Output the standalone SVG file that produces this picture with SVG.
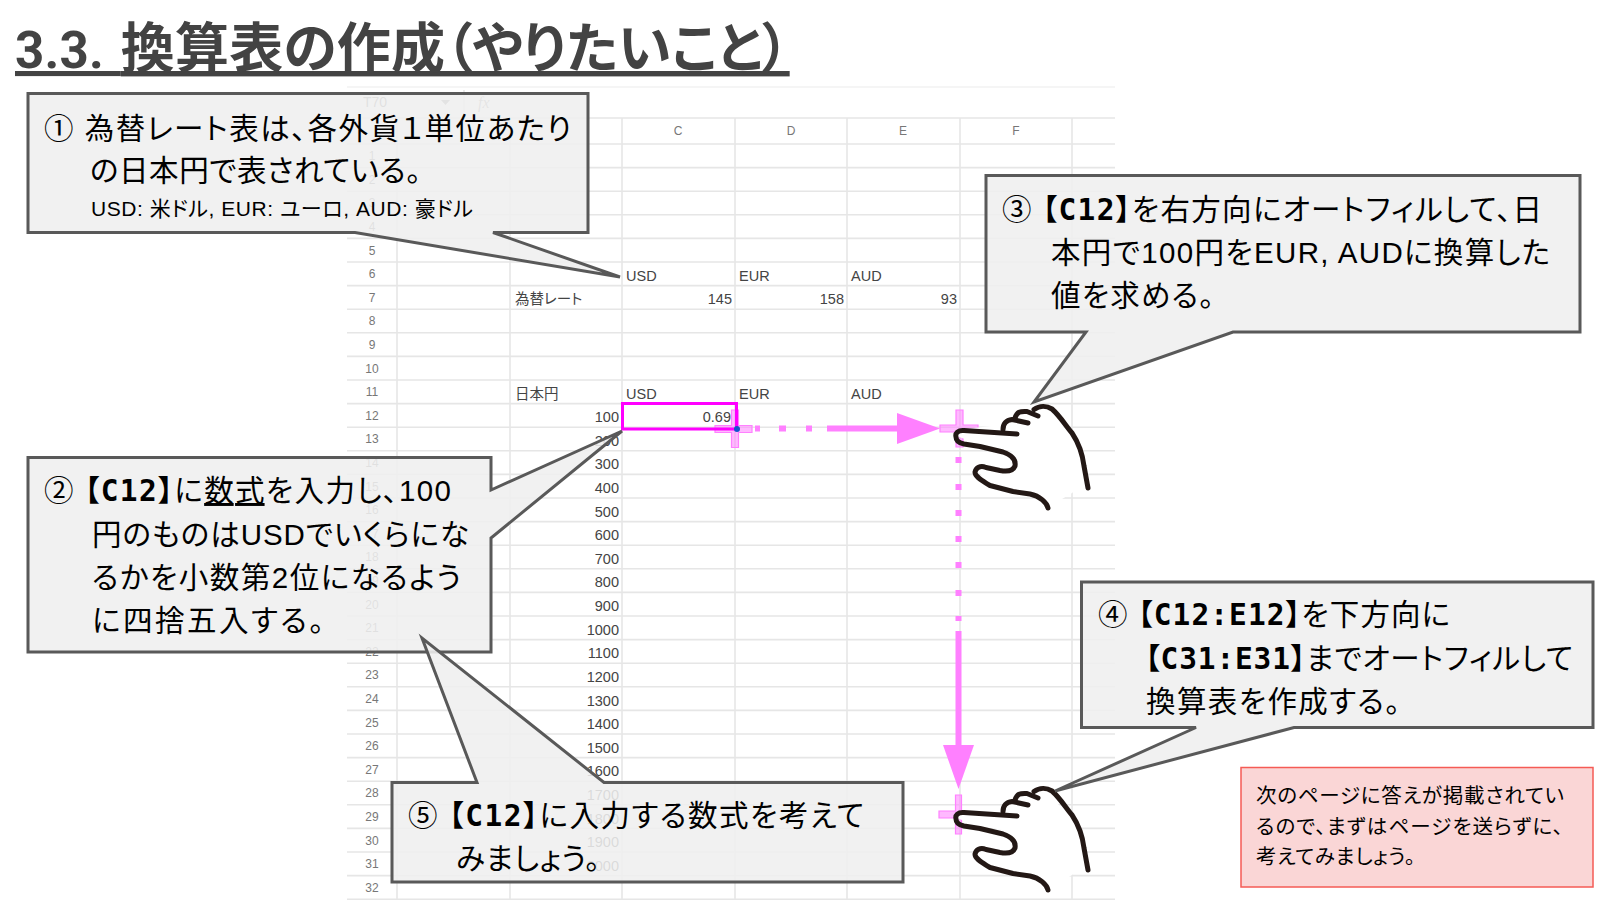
<svg xmlns="http://www.w3.org/2000/svg" width="1600" height="900" viewBox="0 0 1600 900">
<style>
text{font-family:"Liberation Sans","Noto Sans CJK JP","Noto Sans",sans-serif;fill:#000;font-feature-settings:"palt"}
.t{font-size:29.500px}
.s{font-size:21px}
.r{font-size:20.500px}
.m{font-family:"DejaVu Sans Mono","Noto Sans CJK JP",monospace;font-weight:700}
.d{font-size:14.500px;fill:#444}
.e{text-anchor:end}
.h{font-size:12px;fill:#777;text-anchor:middle}
.box{fill:#efefef;fill-opacity:.88;stroke:#595959;stroke-width:3;stroke-linejoin:miter}
.grid{stroke:#e6e6e6;stroke-width:1.6}
.hand{fill:none;stroke:#231815;stroke-width:5;stroke-linecap:round;stroke-linejoin:round}
.cross{fill:#ff80ff;fill-opacity:.55;stroke:#ff80ff;stroke-width:1.2}
.dash{stroke:#ff80ff;stroke-width:6;fill:none}
</style>
<defs>
<g id="handShape">
<path fill="#fff" stroke="none" d="M956 818L965 811L1000 807L1004 802L1016 793L1033 790L1050 797L1070 815L1081 830L1086 862L1072 875L1062 881L1048 890L1040 880L1020 875L985 860L975 852L978 845L990 850L1010 852L1018 845L1015 835L1003 830L980 826Z"/>
<path class="hand" d="M1017 816L964 812.500C958 812 955 815 956 819C956 823 959 825 964 826L980 828.500L1003 834C1012 837 1016 842 1015 848C1013 853 1008 854 1000 852.500L986 849.500C980 847 976 850 975 854C975 858 979 861 990 867.500L1013 873.500L1030 876C1040 878 1047 885 1048 890"/>
<path class="hand" d="M1003 811.500C1003 806 1006 802 1012 801.500L1028 805"/>
<path class="hand" d="M1015 800C1017 794 1020 793 1027 793.500L1038 798"/>
<path class="hand" d="M1034 791.500C1040 787 1047 788 1052 791C1060 798 1066 808 1072 815C1080 827 1083 840 1084 848L1088 870"/>
</g>
</defs>
<rect width="1600" height="900" fill="#fff"/>
<g id="sheet">
<path class="grid" stroke-opacity=".5" d="M347 87H1115"/>
<path class="grid" d="M347 118H1115M347 144H1115M347 167.600H1115M347 191.200H1115M347 214.800H1115M347 238.400H1115M347 262H1115M347 285.600H1115M347 309.200H1115M347 332.800H1115M347 356.400H1115M347 380H1115M347 403.600H1115M347 427.200H1115M347 450.800H1115M347 474.400H1115M347 498H1115M347 521.600H1115M347 545.200H1115M347 568.800H1115M347 592.400H1115M347 616H1115M347 639.600H1115M347 663.200H1115M347 686.800H1115M347 710.400H1115M347 734H1115M347 757.600H1115M347 781.200H1115M347 804.800H1115M347 828.400H1115M347 852H1115M347 875.600H1115M347 899.200H1115"/>
<path class="grid" d="M397 118V900M510 118V900M622 118V900M735 118V900M847 118V900M960 118V900M1072 118V900M464 90V112"/>
<text x="363" y="107" style="font-size:14px;fill:#777">T70</text>
<path d="M441 100h9l-4.500 5z" fill="#888"/>
<text x="478" y="108" style="font-family:'Liberation Serif';font-style:italic;font-size:16px;fill:#999">fx</text>
<text class="h" x="678" y="135">C</text><text class="h" x="791" y="135">D</text><text class="h" x="903" y="135">E</text><text class="h" x="1016" y="135">F</text>
<text class="h" x="372" y="160">1</text><text class="h" x="372" y="184">2</text><text class="h" x="372" y="207">3</text><text class="h" x="372" y="231">4</text><text class="h" x="372" y="255">5</text><text class="h" x="372" y="278">6</text><text class="h" x="372" y="302">7</text><text class="h" x="372" y="325">8</text><text class="h" x="372" y="349">9</text><text class="h" x="372" y="373">10</text><text class="h" x="372" y="396">11</text><text class="h" x="372" y="420">12</text><text class="h" x="372" y="443">13</text><text class="h" x="372" y="467">14</text><text class="h" x="372" y="491">15</text><text class="h" x="372" y="514">16</text><text class="h" x="372" y="538">17</text><text class="h" x="372" y="561">18</text><text class="h" x="372" y="585">19</text><text class="h" x="372" y="609">20</text><text class="h" x="372" y="632">21</text><text class="h" x="372" y="656">22</text><text class="h" x="372" y="679">23</text><text class="h" x="372" y="703">24</text><text class="h" x="372" y="727">25</text><text class="h" x="372" y="750">26</text><text class="h" x="372" y="774">27</text><text class="h" x="372" y="797">28</text><text class="h" x="372" y="821">29</text><text class="h" x="372" y="845">30</text><text class="h" x="372" y="868">31</text><text class="h" x="372" y="892">32</text>
<text class="d" x="626" y="281">USD</text><text class="d" x="739" y="281">EUR</text><text class="d" x="851" y="281">AUD</text>
<text class="d" x="515" y="304">為替レート</text>
<text class="d e" x="732" y="304">145</text><text class="d e" x="844" y="304">158</text><text class="d e" x="957" y="304">93</text>
<text class="d" x="515" y="399">日本円</text>
<text class="d" x="626" y="399">USD</text><text class="d" x="739" y="399">EUR</text><text class="d" x="851" y="399">AUD</text>
<text class="d e" x="619" y="422">100</text><text class="d e" x="619" y="446">200</text><text class="d e" x="619" y="469">300</text><text class="d e" x="619" y="493">400</text><text class="d e" x="619" y="517">500</text><text class="d e" x="619" y="540">600</text><text class="d e" x="619" y="564">700</text><text class="d e" x="619" y="587">800</text><text class="d e" x="619" y="611">900</text><text class="d e" x="619" y="635">1000</text><text class="d e" x="619" y="658">1100</text><text class="d e" x="619" y="682">1200</text><text class="d e" x="619" y="706">1300</text><text class="d e" x="619" y="729">1400</text><text class="d e" x="619" y="753">1500</text><text class="d e" x="619" y="776">1600</text><text class="d e" x="619" y="800">1700</text><text class="d e" x="619" y="824">1800</text><text class="d e" x="619" y="847">1900</text><text class="d e" x="619" y="871">2000</text>
<text class="d e" x="731" y="422">0.69</text>
</g>
<g id="connectors">
<path class="dash" d="M755 428.600h5M779 428.600h7M806 428.600h6M827 428.600h72"/>
<path d="M897 413L940 428.600L897 444Z" fill="#ff80ff"/>
<path class="dash" d="M958.500 457v6M958.500 484v6M958.500 510v6M958.500 536v6M958.500 562v6M958.500 590v6M958.500 616v5M958.500 631v116"/>
<path d="M943 745H974L958.500 789Z" fill="#ff80ff"/>
</g>
<g id="fill-handle-1"><path class="cross" d="M731.500 410h7v15.500h13.500v7h-13.500v15h-7v-15h-16.500v-7h16.500z"/></g>
<g id="fill-handle-2"><path class="cross" d="M956 410h7v15h15v7h-15v15h-7v-15h-16v-7h16z"/></g>
<g id="fill-handle-3"><path class="cross" d="M955.500 795h6v16h0v7h0v16h-6v-16h-16.500v-7h16.500z"/></g>
<g id="selection"><rect x="622.500" y="403.500" width="114" height="25.500" fill="none" stroke="#ff00ff" stroke-width="3"/><circle cx="737" cy="429" r="3" fill="#1155cc"/></g>
<g id="hand-1"><use href="#handShape" transform="translate(0 -382)"/></g>
<g id="hand-2"><use href="#handShape"/></g>
<g id="callout-1">
<path class="box" d="M28 93.500H588V232.500H493L620 277L355 232.500H28Z"/>
<text class="t" x="44" y="139" textLength="527">① 為替レート表は、各外貨１単位あたり</text>
<text class="t" x="90" y="181" textLength="331">の日本円で表されている。</text>
<text class="s" x="91" y="216" textLength="382">USD: 米ドル, EUR: ユーロ, AUD: 豪ドル</text>
</g>
<g id="callout-2">
<path class="box" d="M28 457.500H491V490L622 431L491 538V652H28Z"/>
<text class="t" x="44" y="501" textLength="407">② <tspan class="m">【C12】</tspan>に<tspan text-decoration="underline">数式</tspan>を入力し、100</text>
<text class="t" x="92" y="545" textLength="377">円のものはUSDでいくらにな</text>
<text class="t" x="92" y="588" textLength="369">るかを小数第2位になるよう</text>
<text class="t" x="92" y="631" textLength="232">に四捨五入する。</text>
</g>
<g id="callout-3">
<path class="box" d="M986 175.500H1580V332H1233L1034 402L1086 332H986Z"/>
<text class="t" x="1002" y="220" textLength="540">③ <tspan class="m">【C12】</tspan>を右方向にオートフィルして、日</text>
<text class="t" x="1051" y="263" textLength="499">本円で100円をEUR, AUDに換算した</text>
<text class="t" x="1051" y="306" textLength="163">値を求める。</text>
</g>
<g id="callout-4">
<path class="box" d="M1081.500 582H1593V727.500H1294L1055 791L1196 727.500H1081.500Z"/>
<text class="t" x="1098" y="625" textLength="352">④ <tspan class="m">【C12:E12】</tspan>を下方向に</text>
<text class="t" x="1145" y="669" textLength="428"><tspan class="m">【C31:E31】</tspan>までオートフィルして</text>
<text class="t" x="1146" y="712" textLength="254">換算表を作成する。</text>
</g>
<g id="callout-5">
<path class="box" d="M392 782.500H477L422 638L604 782.500H903V882H392Z"/>
<text class="t" x="408" y="826" textLength="456">⑤ <tspan class="m">【C12】</tspan>に入力する数式を考えて</text>
<text class="t" x="456" y="869" textLength="144">みましょう。</text>
</g>
<g id="note">
<rect x="1241" y="767.500" width="352" height="119.500" fill="#fad6d6" stroke="#f55b55" stroke-width="1.500"/>
<text class="r" x="1256" y="803" textLength="308">次のページに答えが掲載されてい</text>
<text class="r" x="1256" y="834" textLength="307">るので、まずはページを送らずに、</text>
<text class="r" x="1256" y="864" textLength="159">考えてみましょう。</text>
</g>
<g id="title">
<text x="15" y="68" style="font-family:Roboto,'Noto Sans CJK JP',sans-serif;font-size:54px;font-weight:700;fill:#434343;letter-spacing:.2px" text-decoration="underline"><tspan style="font-size:51px;word-spacing:4px">3.3. </tspan>換算表の作成（やりたいこと）</text>
</g>
</svg>
